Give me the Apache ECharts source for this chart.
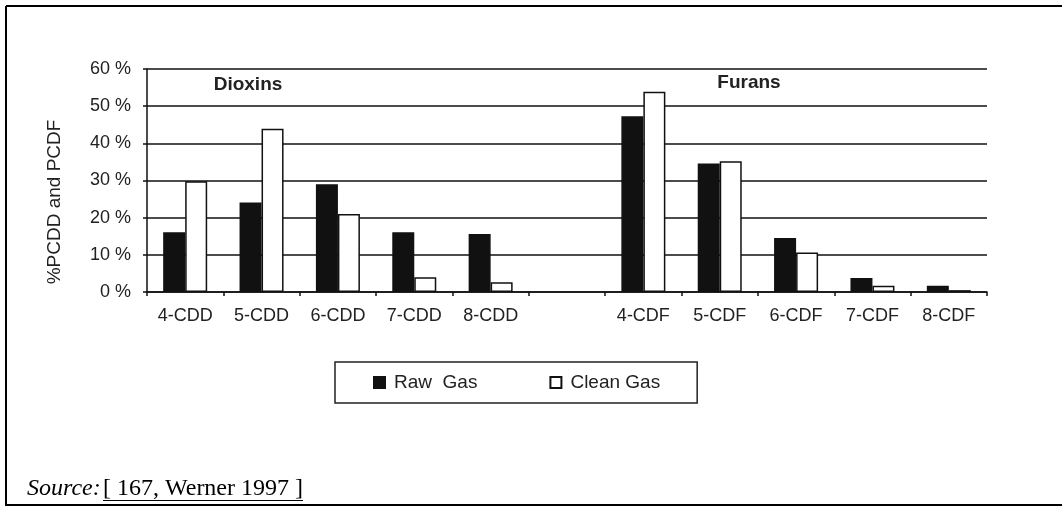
<!DOCTYPE html>
<html>
<head>
<meta charset="utf-8">
<script src="https://cdn.jsdelivr.net/npm/echarts@6/dist/echarts.min.js"></script>
<style>
html,body{margin:0;padding:0;background:#fff;}
#chart{width:1062px;height:506px;}
</style>
</head>
<body>
<div id="chart"></div>
<script>
var categories = ['4-CDD','5-CDD','6-CDD','7-CDD','8-CDD','','4-CDF','5-CDF','6-CDF','7-CDF','8-CDF'];
var rawGas   = [16.1, 24.1, 29.0, 16.1, 15.6, null, 47.3, 34.6, 14.5, 3.8, 1.7];
var cleanGas = [29.8, 43.9, 21.0, 4.0, 2.6, null, 53.9, 35.2, 10.6, 1.7, 0.5];
var yTicks = [0, 10, 20, 30, 40, 50, 60];
var seriesNames = ['Raw  Gas', 'Clean Gas'];
var groupLabels = ['Dioxins', 'Furans'];
var yAxisTitle = '%PCDD and PCDF';
var sourceLabel = 'Source:';
var sourceRef = '[ 167, Werner 1997 ]';

var font = 'Liberation Sans, Arial, sans-serif';
var chart = echarts.init(document.getElementById('chart'), null, {renderer: 'canvas'});
chart.setOption({
  animation: false,
  backgroundColor: '#fff',
  grid: {left: 147, right: 75, top: 69, bottom: 214},
  xAxis: {
    type: 'category',
    data: categories,
    boundaryGap: true,
    axisLine: {lineStyle: {color: '#111', width: 1.5}},
    axisTick: {show: true, length: 4, lineStyle: {color: '#111', width: 1.5}},
    axisLabel: {color: '#222', fontFamily: font, fontSize: 18, margin: 15, interval: 0},
    splitLine: {show: false}
  },
  yAxis: {
    type: 'value',
    min: yTicks[0],
    max: yTicks[yTicks.length - 1],
    interval: 10,
    axisLine: {show: true, lineStyle: {color: '#111', width: 1.5}},
    axisTick: {show: true, length: 4, lineStyle: {color: '#111', width: 1.5}},
    axisLabel: {color: '#222', fontFamily: font, fontSize: 18, margin: 16, formatter: '{value} %'},
    splitLine: {show: true, lineStyle: {color: '#111', width: 1.5}}
  },
  legend: {
    left: 335,
    top: 362,
    data: seriesNames,
    orient: 'horizontal',
    itemWidth: 11,
    itemHeight: 11,
    itemGap: 72,
    padding: [11, 37, 11, 38],
    borderColor: '#222',
    borderWidth: 1.5,
    icon: 'rect',
    textStyle: {color: '#222', fontFamily: font, fontSize: 19, padding: [0, 0, 0, 4]}
  },
  series: [
    {
      name: seriesNames[0],
      type: 'bar',
      data: rawGas,
      barWidth: 22,
      barGap: '0%',
      itemStyle: {color: '#111', borderColor: '#111', borderWidth: 1.5}
    },
    {
      name: seriesNames[1],
      type: 'bar',
      data: cleanGas,
      barWidth: 22,
      barGap: '0%',
      itemStyle: {color: '#fff', borderColor: '#111', borderWidth: 1.5}
    }
  ],
  graphic: [
    {type: 'line', shape: {x1: 6, y1: 6, x2: 1062, y2: 6}, style: {stroke: '#000', lineWidth: 2}},
    {type: 'line', shape: {x1: 6, y1: 6, x2: 6, y2: 506}, style: {stroke: '#000', lineWidth: 2}},
    {type: 'line', shape: {x1: 6, y1: 505, x2: 1062, y2: 505}, style: {stroke: '#000', lineWidth: 2}},
    {type: 'text', x: 55, y: 202, rotation: Math.PI / 2,
      style: {text: yAxisTitle, fill: '#222', font: '19px Liberation Sans, Arial, sans-serif', align: 'center', verticalAlign: 'middle'}},
    {type: 'text', x: 248, y: 85, style: {text: groupLabels[0], fill: '#222', font: 'bold 19px Liberation Sans, Arial, sans-serif', align: 'center', verticalAlign: 'middle'}},
    {type: 'text', x: 749, y: 83, style: {text: groupLabels[1], fill: '#222', font: 'bold 19px Liberation Sans, Arial, sans-serif', align: 'center', verticalAlign: 'middle'}},
    {type: 'text', x: 27, y: 489, style: {text: sourceLabel, fill: '#000', font: 'italic 24px Liberation Serif, Times New Roman, serif', align: 'left', verticalAlign: 'middle'}},
    {type: 'text', x: 103, y: 489, style: {text: sourceRef, fill: '#000', font: '24px Liberation Serif, Times New Roman, serif', align: 'left', verticalAlign: 'middle'}},
    {type: 'line', shape: {x1: 103, y1: 500.5, x2: 303, y2: 500.5}, style: {stroke: '#000', lineWidth: 1.2}}
  ]
});
</script>
</body>
</html>
